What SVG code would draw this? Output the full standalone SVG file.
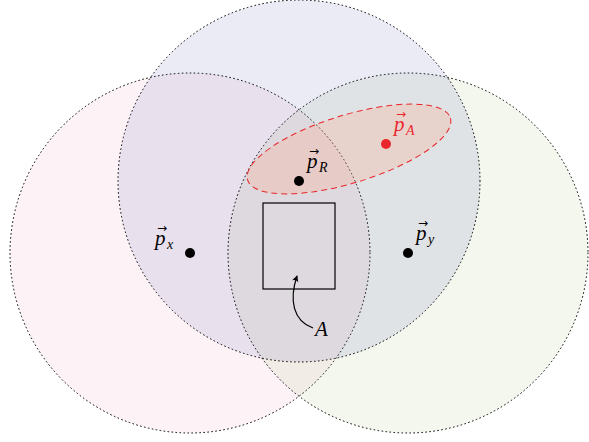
<svg xmlns="http://www.w3.org/2000/svg" width="589" height="442" viewBox="0 0 589 442">
<style>
.reg{stroke:#000;stroke-width:1;stroke-dasharray:0.8 3.2;stroke-linecap:round}
text{font-family:"Liberation Serif","DejaVu Serif",serif;font-style:italic}
.lab{font-size:21px}
.sub{font-size:14px}
.vec{font-family:"DejaVu Sans",sans-serif;font-style:normal;font-size:12px}
</style>
<defs>
<marker id="ah" viewBox="0 0 10 10" refX="8" refY="5" markerWidth="8" markerHeight="8" orient="auto" markerUnits="userSpaceOnUse">
<path d="M1,1 L9,5 L1,9 Q4,5 1,1 Z" fill="#000"/>
</marker>
</defs>
<rect width="589" height="442" fill="#fff"/>
<g id="regions">
<circle id="Rx" cx="190" cy="253" r="180" fill="rgb(225,105,155)" fill-opacity="0.08" class="reg"/>
<circle id="Ry" cx="408" cy="253" r="180" fill="rgb(105,155,35)" fill-opacity="0.08" class="reg"/>
<circle id="Rz" cx="299" cy="181" r="181" fill="rgb(35,35,155)" fill-opacity="0.09" class="reg"/>
</g>
<g id="ellipseA">
<ellipse cx="349" cy="149" rx="106" ry="34" transform="rotate(-17 349 149)" fill="rgb(255,170,135)" fill-opacity="0.28" stroke="#e8262b" stroke-width="1" stroke-dasharray="6 4"/>
</g>
<g id="setA">
<rect x="263" y="203" width="72" height="86" fill="none" stroke="#000" stroke-width="1.2"/>
</g>
<g id="connectors">
<path d="M313,328 C293,321 289,300 297,276" fill="none" stroke="#000" stroke-width="1.2" marker-end="url(#ah)"/>
</g>
<g id="px">
<circle cx="190" cy="253" r="5" fill="#000"/>
<text x="155" y="245"><tspan class="lab">p</tspan><tspan class="vec" x="157" y="232">→</tspan><tspan class="sub" x="167" y="249">x</tspan></text>
</g>
<g id="py">
<circle cx="408" cy="253" r="5" fill="#000"/>
<text x="416" y="240"><tspan class="lab">p</tspan><tspan class="vec" x="418" y="227">→</tspan><tspan class="sub" x="428" y="244">y</tspan></text>
</g>
<g id="pR">
<circle cx="299" cy="181" r="5" fill="#000"/>
<text x="307" y="168"><tspan class="lab">p</tspan><tspan class="vec" x="309" y="155">→</tspan><tspan class="sub" x="319" y="172">R</tspan></text>
</g>
<g id="pA">
<circle cx="386" cy="144" r="5" fill="#e8262b"/>
<text x="394" y="131" fill="#e8262b"><tspan class="lab">p</tspan><tspan class="vec" x="396" y="118">→</tspan><tspan class="sub" x="406" y="135">A</tspan></text>
</g>
<g id="labelA">
<text x="315" y="336" class="lab">A</text>
</g>
</svg>
